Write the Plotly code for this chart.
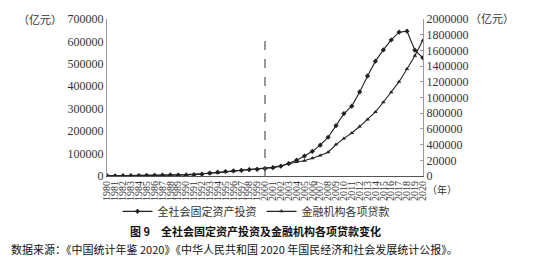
import plotly.graph_objects as go

# ---------------- data ----------------
years = [str(y) for y in range(1980, 2021)]

fixed_investment = [
    910.9, 961.0, 1230.4, 1430.1, 1832.9, 2543.2, 3120.6, 3791.7, 4753.8, 4410.4,
    4517.0, 5594.5, 8080.1, 13072.3, 17042.1, 20019.3, 22913.5, 24941.1, 28406.2, 29854.7,
    32917.7, 37213.5, 43499.9, 55566.6, 70477.4, 88773.6, 109998.2, 137323.9, 172828.4, 224598.8,
    278121.9, 311485.1, 374694.7, 446294.1, 512020.7, 561999.8, 606465.7, 641238.4, 645675.0, 560874.3,
    527270.0,
]

loans = [
    2414.3, 2860.2, 3180.6, 3589.9, 4766.1, 5905.6, 7590.8, 9032.5, 10551.3, 14360.1,
    17680.7, 21337.8, 26322.9, 32943.1, 40810.1, 50544.1, 61152.8, 74914.1, 86524.1, 93734.3,
    99371.1, 112314.7, 131293.9, 158996.2, 178197.8, 194690.4, 225347.2, 261690.9, 303394.6, 399684.8,
    479195.6, 547946.7, 629909.6, 718961.5, 816770.0, 939540.2, 1066040.1, 1201320.9, 1362966.7, 1531123.2,
    1727452.0,
]

series_names = ["全社会固定资产投资", "金融机构各项贷款"]

left_tickvals = [0, 100000, 200000, 300000, 400000, 500000, 600000, 700000]
left_ticktext = ["0", "100000", "200000", "300000", "400000", "500000", "600000", "700000"]

right_tickvals = [0, 200000, 400000, 600000, 800000, 1000000, 1200000, 1400000, 1600000, 1800000, 2000000]
right_ticktext = ["0", "20000", "400000", "600000", "800000", "1000000", "1200000",
                  "1400000", "1600000", "1800000", "2000000"]

ref_year = "2000"
ref_top = 640000

unit_left = "（亿元）"
unit_right = "（亿元）"
unit_x = "（年）"
title_text = "图 9　全社会固定资产投资及金融机构各项贷款变化"
source_text = "数据来源：《中国统计年鉴 2020》《中华人民共和国 2020 年国民经济和社会发展统计公报》。"

# ---------------- layout constants ----------------
W, H = 549, 269
ML, MR, MT, MB = 107, 126, 16, 93
PH = H - MT - MB
PW = W - ML - MR


def py(ypix):
    return (H - MB - ypix) / PH


def px(xpix):
    return (xpix - ML) / PW


serif = "Liberation Serif, Times New Roman, serif"
cjk = "Noto Sans CJK SC"
txt = "#333333"
line_col = "#222222"

fig = go.Figure()
fig.add_trace(go.Scatter(
    x=years, y=fixed_investment, name=series_names[0], mode="lines+markers",
    line=dict(color=line_col, width=1.1),
    marker=dict(symbol="diamond", size=4, color=line_col),
    yaxis="y",
))
fig.add_trace(go.Scatter(
    x=years, y=loans, name=series_names[1], mode="lines+markers",
    line=dict(color=line_col, width=1.1),
    marker=dict(symbol="triangle-up", size=4, color=line_col),
    yaxis="y2",
))

ref_idx = years.index(ref_year)
fig.add_shape(type="line", xref="x", yref="y", x0=ref_idx, x1=ref_idx, y0=0, y1=ref_top,
              line=dict(color="#555555", width=1.2, dash="dash"))

fig.update_layout(
    width=W, height=H,
    margin=dict(l=ML, r=MR, t=MT, b=MB, pad=0),
    paper_bgcolor="white", plot_bgcolor="white",
    showlegend=True,
    legend=dict(orientation="h", x=px(256), xanchor="center", y=py(212), yanchor="middle",
                font=dict(family=cjk, size=11, color=txt), itemwidth=30,
                bgcolor="rgba(0,0,0,0)", tracegroupgap=0),
    xaxis=dict(type="category", range=[-0.03, len(years) - 1 + 0.03],
               tickmode="array", tickvals=years, ticktext=years,
               tickangle=-90, tickfont=dict(family=serif, size=10, color=txt),
               showline=True, linecolor="#555555", linewidth=1, showgrid=False,
               ticks="", zeroline=False),
    yaxis=dict(range=[0, 700000], tickvals=left_tickvals, ticktext=left_ticktext,
               tickfont=dict(family=serif, size=12, color=txt),
               showline=True, linecolor="#999999", linewidth=1, showgrid=False,
               zeroline=False, ticks=""),
    yaxis2=dict(range=[0, 2000000], tickvals=right_tickvals, ticktext=right_ticktext,
                overlaying="y", side="right",
                tickfont=dict(family=serif, size=12, color=txt),
                showline=True, linecolor="#999999", linewidth=1, showgrid=False,
                zeroline=False, ticks="inside", ticklen=3, tickcolor="#999999"),
)

annotations = [
    dict(text=unit_left, x=px(64), y=py(16), xanchor="right", yanchor="middle",
         font=dict(family=cjk, size=11, color=txt)),
    dict(text=unit_right, x=px(468), y=py(15), xanchor="left", yanchor="middle",
         font=dict(family=cjk, size=11, color=txt)),
    dict(text=unit_x, x=px(425), y=py(190), xanchor="left", yanchor="middle",
         font=dict(family=cjk, size=10, color=txt)),
    dict(text="<b>" + title_text + "</b>", x=px(255), y=py(232), xanchor="center", yanchor="middle",
         font=dict(family=cjk, size=11, color="#111111")),
    dict(text=source_text, x=px(9), y=py(250), xanchor="left", yanchor="middle",
         font=dict(family=cjk, size=11, color="#111111")),
]
for a in annotations:
    a.update(xref="paper", yref="paper", showarrow=False)
fig.update_layout(annotations=annotations)

fig.write_html("out.html")
